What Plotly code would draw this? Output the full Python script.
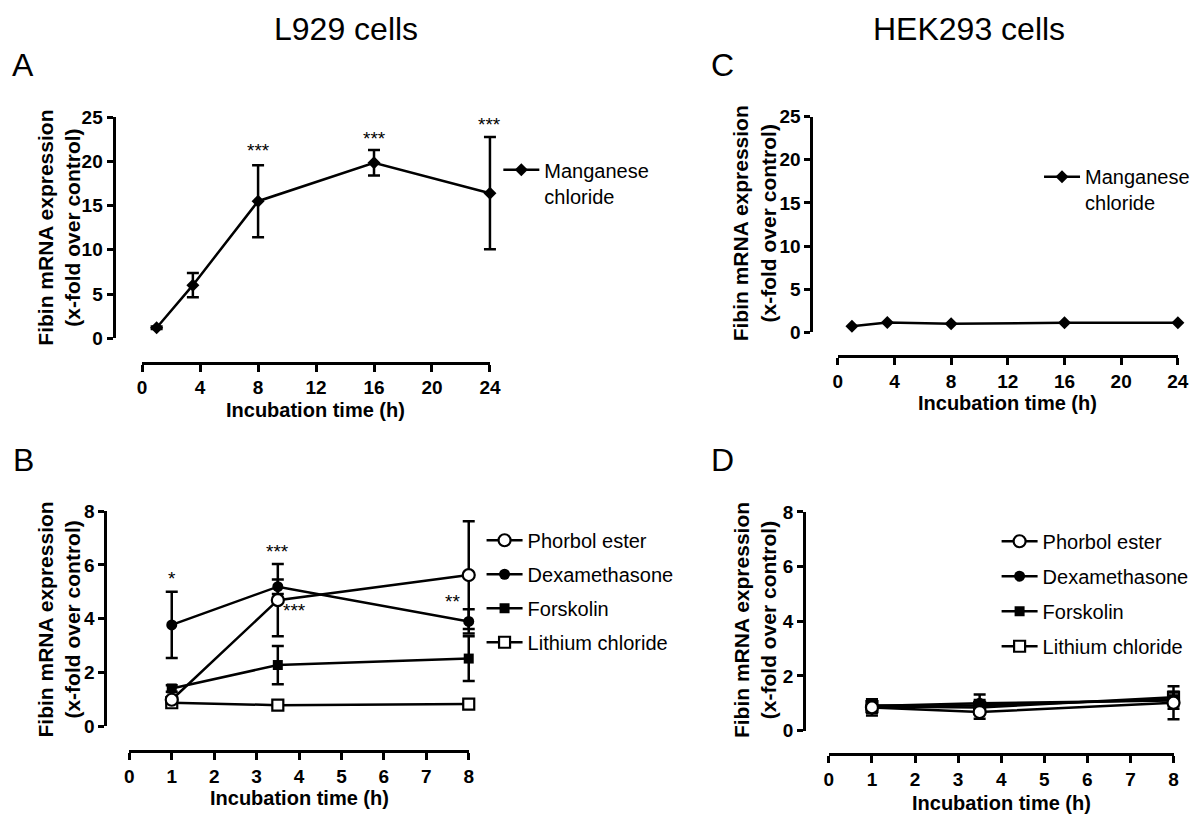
import plotly.graph_objects as go

F = "Liberation Sans"

# ---- data ----
hours_long = [1, 3.5, 8, 16, 24]
mn_l929 = [1.18, 6.0, 15.5, 19.85, 16.4]
mn_l929_err = [0.15, 1.38, 4.08, 1.43, 6.35]
mn_hek = [0.7, 1.15, 1.0, 1.1, 1.1]

hours_short = [1, 3.5, 8]
l929_phorbol = [0.99, 4.69, 5.62]
l929_phorbol_err = [0.1, 1.34, 2.0]
l929_dexa = [3.77, 5.19, 3.9]
l929_dexa_err = [1.23, 0.27, 0.45]
l929_forsk = [1.41, 2.28, 2.52]
l929_forsk_err = [0.12, 0.71, 0.83]
l929_li = [0.88, 0.79, 0.83]
l929_li_err = [0.05, 0.05, 0.05]

hek_phorbol = [0.85, 0.68, 1.02]
hek_phorbol_err = [0.3, 0.25, 0.6]
hek_dexa = [0.9, 1.0, 1.1]
hek_dexa_err = [0.25, 0.32, 0.3]
hek_forsk = [0.92, 0.92, 1.15]
hek_forsk_err = [0.15, 0.2, 0.25]
hek_li = [0.88, 0.85, 1.22]
hek_li_err = [0.2, 0.15, 0.2]

xticks_long = [0, 4, 8, 12, 16, 20, 24]
xticks_short = [0, 1, 2, 3, 4, 5, 6, 7, 8]
yticks_mn = [0, 5, 10, 15, 20, 25]
yticks_other = [0, 2, 4, 6, 8]

# significance marks: (x, y, text)
stars_A = [(8, 21.1, "***"), (16, 22.5, "***"), (24, 24.1, "***")]
stars_B = [(1, 5.5, "*"), (3.5, 6.5, "***"), (3.9, 4.29, "***"), (8, 8.08, "***"), (7.61, 4.63, "**")]

W, H = 1200, 831
def px(x):
    return x / W
def py(y):
    return 1 - y / H

fig = go.Figure()

def err(arr):
    return dict(type="data", array=arr, visible=True, color="black", thickness=2.5, width=6)

line = dict(color="black", width=2.5)

# Panel A (data on hidden overlay axis x5 so marks at the axis ends are not clipped)
fig.add_trace(go.Scatter(x=hours_long, y=mn_l929, error_y=err(mn_l929_err), mode="lines+markers",
                         name="Manganese<br>chloride", line=line,
                         marker=dict(symbol="diamond", size=10, color="black"),
                         xaxis="x5", yaxis="y", legend="legend", cliponaxis=False))
# Panel C
fig.add_trace(go.Scatter(x=hours_long, y=mn_hek, mode="lines+markers",
                         name="Manganese<br>chloride", line=line,
                         marker=dict(symbol="diamond", size=10, color="black"),
                         xaxis="x7", yaxis="y3", legend="legend3", cliponaxis=False))

styles = {
    "Phorbol ester": dict(symbol="circle", size=12, color="white", line=dict(color="black", width=2.2)),
    "Dexamethasone": dict(symbol="circle", size=11, color="black"),
    "Forskolin": dict(symbol="square", size=10, color="black"),
    "Lithium chloride": dict(symbol="square", size=11, color="white", line=dict(color="black", width=2.2)),
}
ranks = {"Phorbol ester": 1, "Dexamethasone": 2, "Forskolin": 3, "Lithium chloride": 4}

b_data = [("Lithium chloride", l929_li, l929_li_err), ("Forskolin", l929_forsk, l929_forsk_err),
          ("Dexamethasone", l929_dexa, l929_dexa_err), ("Phorbol ester", l929_phorbol, l929_phorbol_err)]
d_data = [("Lithium chloride", hek_li, hek_li_err), ("Forskolin", hek_forsk, hek_forsk_err),
          ("Dexamethasone", hek_dexa, hek_dexa_err), ("Phorbol ester", hek_phorbol, hek_phorbol_err)]

for name, vals, e in b_data:
    fig.add_trace(go.Scatter(x=hours_short, y=vals, error_y=err(e), mode="lines+markers", name=name,
                             line=line, marker=styles[name], xaxis="x6", yaxis="y2",
                             legend="legend2", legendgroup="b" + name, legendrank=ranks[name],
                             cliponaxis=False))
for name, vals, e in d_data:
    fig.add_trace(go.Scatter(x=hours_short, y=vals, error_y=err(e), mode="lines+markers", name=name,
                             line=line, marker=styles[name], xaxis="x8", yaxis="y4",
                             legend="legend4", legendgroup="d" + name, legendrank=ranks[name],
                             cliponaxis=False))

# empty traces so the visible axes of every panel are drawn
for xa, ya in [("x", "y"), ("x2", "y2"), ("x3", "y3"), ("x4", "y4")]:
    fig.add_trace(go.Scatter(x=[None], y=[None], xaxis=xa, yaxis=ya, showlegend=False,
                             hoverinfo="skip", mode="markers"))

tickfont = dict(family=F, size=19, color="black", weight="bold")
def xax(dom, pos, rng, tv):
    return dict(domain=[px(dom[0]), px(dom[1])], anchor="free", position=py(pos), range=rng,
                tickvals=tv, ticktext=[str(t) for t in tv], showline=True, linecolor="black",
                linewidth=3, ticks="outside", ticklen=7, tickwidth=3, tickcolor="black",
                showgrid=False, zeroline=False, tickfont=tickfont, fixedrange=True)
def xhidden(dom, rng, pad):
    span = dom[1] - dom[0]
    ppu = span / (rng[1] - rng[0])
    return dict(domain=[px(dom[0] - pad * ppu), min(1.0, px(dom[1] + pad * ppu))], anchor="free",
                position=0, range=[rng[0] - pad, rng[1] + pad], visible=False,
                showgrid=False, zeroline=False, fixedrange=True)
def yax(dom, pos, rng, tv):
    return dict(domain=[py(dom[0]), py(dom[1])], anchor="free", position=px(pos), range=rng,
                tickvals=tv, ticktext=[str(t) for t in tv], showline=True, linecolor="black",
                linewidth=3, ticks="outside", ticklen=6, tickwidth=3, tickcolor="black",
                showgrid=False, zeroline=False, tickfont=tickfont, fixedrange=True)

legfont = dict(family=F, size=20, color="black")
def leg(x, y, gap=6):
    return dict(x=px(x), y=py(y), xanchor="left", yanchor="top", font=legfont,
                bgcolor="rgba(0,0,0,0)", valign="top", tracegroupgap=gap, itemwidth=36)

domA, domB, domC, domD = (139, 491.5), (126, 470), (844, 1188.7), (835, 1184.3)
fig.update_layout(
    width=W, height=H, margin=dict(l=0, r=0, t=0, b=0),
    paper_bgcolor="white", plot_bgcolor="white", showlegend=True,
    font=dict(family=F, color="black"),
    xaxis=xax(domA, 361.7, [0, 24], xticks_long),
    yaxis=yax((336.7, 110), 110, [0, 25], yticks_mn),
    xaxis2=xax(domB, 760.7, [0, 8], xticks_short),
    yaxis2=yax((735, 514), 101.7, [0, 8], yticks_other),
    xaxis3=xax(domC, 355, [0, 24], xticks_long),
    yaxis3=yax((330.7, 109.3), 817.3, [0, 25], yticks_mn),
    xaxis4=xax(domD, 763.3, [0, 8], xticks_short),
    yaxis4=yax((739.3, 515), 810, [0, 8], yticks_other),
    xaxis5=xhidden(domA, [0, 24], 0.5),
    xaxis6=xhidden(domB, [0, 8], 0.2),
    xaxis7=xhidden(domC, [0, 24], 0.5),
    xaxis8=xhidden(domD, [0, 8], 0.2),
    legend=leg(500, 144),
    legend2=leg(483, 524, 5),
    legend3=leg(1048, 151),
    legend4=leg(1005, 525, 6),
)

ann = []
for (x, y, t) in stars_A:
    ann.append(dict(x=x, y=y, xref="x", yref="y", text=t, showarrow=False, yshift=1,
                    font=dict(family=F, size=19, color="black")))
for (x, y, t) in stars_B:
    ann.append(dict(x=x, y=y, xref="x2", yref="y2", text=t, showarrow=False, yshift=0,
                    font=dict(family=F, size=19, color="black")))

ytitle = "Fibin mRNA expression<br>(x-fold over control)"
xtitle = "Incubation time (h)"
ytfont = dict(family=F, size=21, color="black", weight="bold")
tfont = dict(family=F, size=20, color="black", weight="bold")
for (x, y) in [(55, 223), (55, 625), (760, 219), (760, 626)]:
    ann.append(dict(x=px(x), y=py(y), xref="paper", yref="paper", text=ytitle, textangle=-90,
                    showarrow=False, font=ytfont, xanchor="center", yanchor="middle"))
for (x, y) in [(315, 410.7), (298, 808.3), (1016, 402.7), (1009.5, 813.3)]:
    ann.append(dict(x=px(x), y=py(y), xref="paper", yref="paper", text=xtitle,
                    showarrow=False, font=tfont, xanchor="center", yanchor="middle"))

for (x, y, t) in [(346, 20, "L929 cells"), (977, 20, "HEK293 cells")]:
    ann.append(dict(x=px(x), y=py(y), xref="paper", yref="paper", text=t, showarrow=False,
                    font=dict(family=F, size=32, color="black"), xanchor="center", yanchor="middle"))
for (x, y, t) in [(18, 56, "A"), (19, 462, "B"), (727, 56, "C"), (727, 462, "D")]:
    ann.append(dict(x=px(x), y=py(y), xref="paper", yref="paper", text=t, showarrow=False,
                    font=dict(family=F, size=32, color="black"), xanchor="center", yanchor="middle"))

fig.update_layout(annotations=ann)
fig.write_html("out.html", config={"displayModeBar": False},
               post_script="document.body.style.margin='0';")
